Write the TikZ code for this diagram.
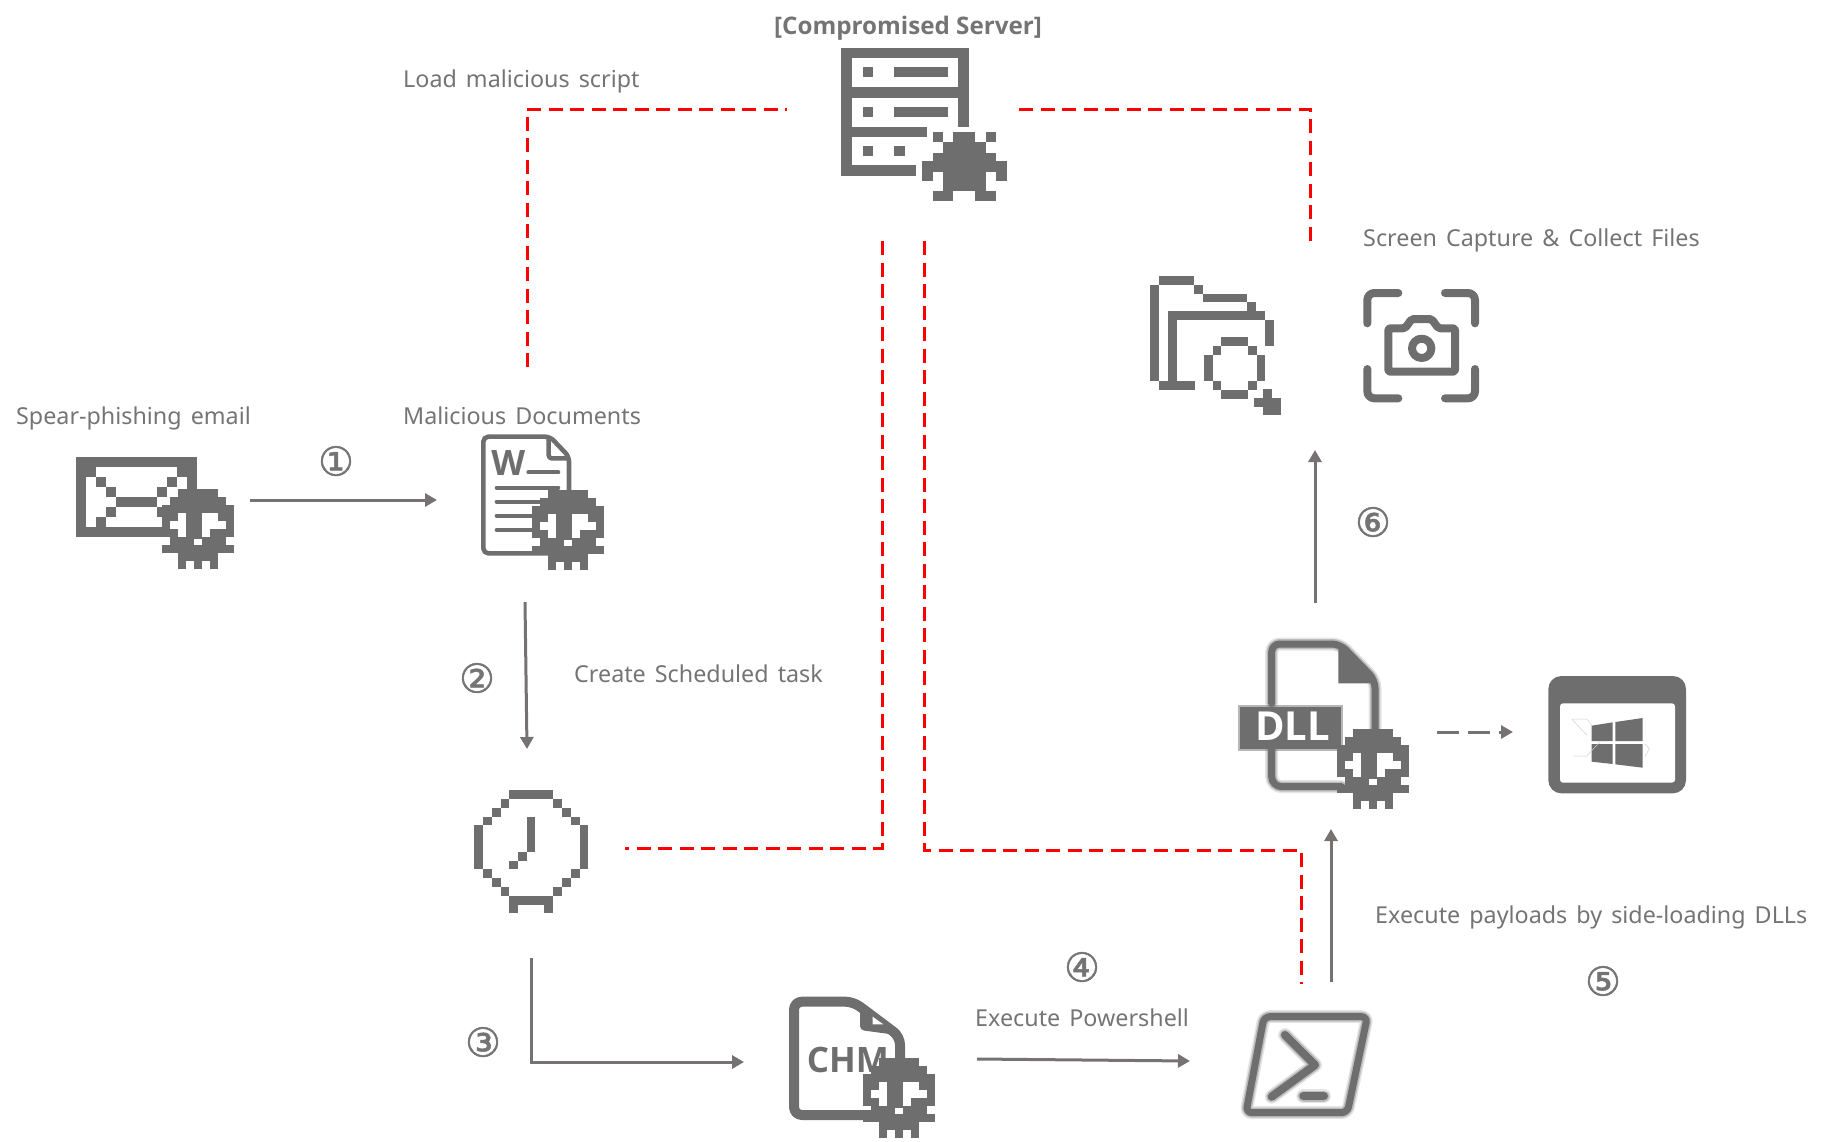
\documentclass[tikz,border=0pt]{standalone}
\usepackage{fontspec}
\setmainfont[WordSpace=1.5]{Noto Sans}
\newfontfamily\boldf{Open Sans}
\newfontfamily\circfont[FakeBold=1.2]{DejaVu Sans}
\usetikzlibrary{arrows.meta}
\definecolor{iconc}{HTML}{6E6E6E}
\definecolor{textc}{HTML}{747474}
\definecolor{arrowc}{HTML}{767272}
\newcommand{\Px}[4]{\fill[iconc] (#1,#2) rectangle (#3,#4);}
\newcommand{\Wh}[4]{\fill[white] (#1,#2) rectangle (#3,#4);}
\newcommand{\Skull}[2]{%
 \begin{scope}[shift={(#1,#2)},x=8pt,y=-8pt]
 \Px{2}{0}{7}{1}\Px{1}{1}{8}{2}\Px{0}{2}{9}{6}\Px{1}{6}{8}{7}\Px{0}{7}{9}{8}\Px{2}{8}{7}{9}
 \Px{2}{9}{3}{10}\Px{4}{9}{5}{10}\Px{6}{9}{7}{10}
 \Wh{2}{3}{3}{6}\Wh{1}{4}{2}{5}\Wh{5}{3}{7}{5}\Wh{7}{4}{8}{5}\Wh{5}{5}{6}{6}\Wh{4}{6.3}{5}{7}
 \end{scope}}
\newcommand{\Blur}[2]{%
 \draw[iconc,line width=#1pt+5pt,opacity=.18,line join=round,line cap=round] #2;
 \draw[iconc,line width=#1pt+2pt,opacity=.35,line join=round,line cap=round] #2;
 \draw[iconc,line width=#1pt-1pt,line join=round,line cap=round] #2;}
\tikzset{
 iconbox/.style={inner sep=0pt,outer sep=0pt,minimum width=#1},
 zoomed/.style={x=0.33333pt,y=-0.33333pt},
 label/.style={text=textc,anchor=base west,inner sep=0pt,font=\fontsize{23.3}{28}\selectfont},
 num/.style={text=textc,inner sep=0pt,font=\circfont\fontsize{40}{42}\selectfont},
 flow/.style={arrowc,line width=3pt,-{Triangle[length=12pt,width=13pt]}},
 flowdash/.style={flow,dash pattern=on 22pt off 9pt},
 c2/.style={red,line width=3pt,dash pattern=on 14pt off 7.5pt}
}
\begin{document}
\begin{tikzpicture}[x=1pt,y=-1pt]
\useasboundingbox (0,0) rectangle (1837,1141);
% --- icon boxes
\node[iconbox=157pt,minimum height=111pt] (mail) at (154.5,512.5) {};
\node[iconbox=121pt,minimum height=134pt] (doc) at (541.5,501) {};
\node[iconbox=114pt,minimum height=123pt] (clock) at (531,851.5) {};
\node[iconbox=147pt,minimum height=141pt] (chm) at (861.5,1067.5) {};
\node[iconbox=129pt,minimum height=104pt] (ps) at (1307.5,1065) {};
\node[iconbox=171pt,minimum height=171pt] (dll) at (1323.5,723.5) {};
\node[iconbox=138pt,minimum height=117pt] (win) at (1617,734.5) {};
\node[iconbox=131pt,minimum height=139pt] (folder) at (1215.5,345.5) {};
\node[iconbox=116pt,minimum height=113pt] (camera) at (1421,345.5) {};
\node[iconbox=166pt,minimum height=153pt] (server) at (924,124.5) {};
% --- server
\begin{scope}[shift={(820,30)},zoomed]
\Px{63}{53}{447}{83}\Px{63}{53}{95}{437}\Px{415}{53}{447}{290}\Px{63}{172}{447}{203}
\Px{63}{290}{320}{320}\Px{63}{406}{287}{437}
\Px{128}{112}{160}{142}\Px{223}{112}{383}{142}
\Px{128}{230}{160}{260}\Px{223}{230}{383}{260}
\Px{128}{348}{160}{378}\Px{223}{348}{255}{378}
\Px{338}{306}{368}{336}\Px{498}{306}{528}{336}\Px{400}{306}{464}{336}
\Px{370}{336}{498}{368}\Px{338}{368}{528}{394}\Px{306}{394}{560}{425}
\Px{306}{425}{338}{452}\Px{528}{425}{560}{452}\Px{370}{425}{498}{484}
\Px{338}{484}{400}{512}\Px{464}{484}{528}{512}
\end{scope}
% --- mail
\begin{scope}[shift={(60,440)},zoomed]
\Px{48}{50}{412}{80}\Px{48}{50}{78}{292}\Px{380}{50}{412}{292}\Px{48}{262}{412}{292}
\Px{78}{80}{108}{110}\Px{108}{110}{138}{140}\Px{138}{140}{168}{172}\Px{168}{172}{290}{202}
\Px{138}{202}{168}{232}\Px{108}{232}{138}{262}
\Px{350}{80}{380}{110}\Px{320}{110}{350}{140}\Px{290}{140}{320}{172}\Px{290}{202}{320}{232}
\end{scope}
\Skull{162}{489}
% --- word document
\begin{scope}[shift={(470,425)},zoomed]
\draw[iconc,line width=4.6pt,line join=round,rounded corners=5pt] (40,35) -- (240,35) -- (297,95) -- (297,385) -- (40,385) -- cycle;
\draw[iconc,line width=4.6pt,line join=round,rounded corners=3pt] (236,35) -- (236,100) -- (297,100);
\node[text=iconc,inner sep=0pt,font=\boldf\bfseries\fontsize{35}{35}\selectfont] (wtext) at (115,113) {W};
\foreach \yy/\xx in {142/175,188/80,230/80,272/80,315/80}{
 \draw[iconc,line width=4pt,line cap=round] (\xx,\yy) -- (265,\yy);}
\end{scope}
\Skull{532}{490}
% --- clock
\begin{scope}[shift={(465,780)},zoomed]
\Px{133}{30}{265}{57}\Px{107}{57}{133}{83}\Px{80}{83}{107}{110}\Px{53}{110}{80}{136}
\Px{27}{136}{53}{268}\Px{53}{268}{80}{295}\Px{80}{295}{107}{322}\Px{107}{322}{133}{348}
\Px{133}{348}{265}{374}\Px{133}{374}{158}{400}\Px{238}{374}{265}{400}
\Px{265}{57}{291}{83}\Px{291}{83}{318}{110}\Px{318}{110}{344}{136}
\Px{344}{136}{370}{268}\Px{318}{268}{344}{295}\Px{291}{295}{318}{322}\Px{265}{322}{291}{348}
\Px{185}{110}{211}{215}\Px{158}{215}{185}{242}\Px{133}{242}{158}{268}
\end{scope}
% --- chm
\begin{scope}[shift={(780,985)},zoomed]
\draw[iconc,line width=10pt,line join=round,rounded corners=8pt] (300,390) -- (42,390) -- (42,50) -- (220,50) -- (360,155) -- (360,300);
\fill[iconc,rounded corners=4pt] (240,60) -- (240,135) -- (350,150) -- (350,130) -- cycle;
\fill[white] (278,95) -- (310,118) -- (278,118) -- cycle;
\node[text=iconc,inner sep=0pt,anchor=west,font=\boldf\bfseries\fontsize{35}{35}\selectfont] (chmtext) at (80,225) {CHM};
\end{scope}
\Skull{863}{1058}
% --- dll
\begin{scope}[shift={(1230,630)},zoomed]
\Blur{8}{(125,220) -- (125,70) [rounded corners=8pt] -- (125,42) -- (330,42) -- (435,150) -- (435,320)}
\Blur{8}{(125,360) [rounded corners=10pt] -- (125,470) -- (335,470)}
\fill[iconc] (325,50) -- (325,160) -- (435,160) -- cycle;
\fill[iconc,opacity=.5] (25,225) rectangle (340,362);
\fill[iconc] (31,231) rectangle (334,356);
\node[text=white,inner sep=0pt,font=\boldf\bfseries\fontsize{40}{42}\selectfont] (dlltext) at (188,290) {DLL};
\end{scope}
\Skull{1337}{729}
% --- windows
\begin{scope}[shift={(1530,660)},zoomed]
\fill[iconc,rounded corners=13pt] (55,48) rectangle (468,400);
\fill[white,rounded corners=3pt] (90,130) rectangle (435,368);
\fill[iconc] (185,197) -- (248,187) -- (248,243) -- (185,243) -- cycle;
\fill[iconc] (256,186) -- (338,174) -- (338,243) -- (256,243) -- cycle;
\fill[iconc] (185,252) -- (248,252) -- (248,312) -- (185,305) -- cycle;
\fill[iconc] (256,252) -- (338,252) -- (338,323) -- (256,313) -- cycle;
\draw[black!18,line width=.5pt] (125,177) -- (170,177) -- (185,195) (125,177) -- (170,225) (130,288) -- (170,288) -- (210,245) (345,252) -- (358,265) -- (345,290);
\end{scope}
% --- powershell
\begin{scope}[shift={(1220,1000)},zoomed]
\Blur{8}{[rounded corners=6pt] (132,50) -- (442,50) -- (382,338) -- (78,338) -- cycle}
\Blur{9}{(195,105) -- (285,195) -- (155,290)}
\Blur{9}{(250,288) -- (312,288)}
\end{scope}
% --- folder
\begin{scope}[shift={(1130,265)},zoomed]
\Px{88}{33}{193}{60}\Px{60}{60}{88}{348}\Px{193}{60}{220}{86}\Px{220}{86}{352}{112}
\Px{352}{112}{379}{138}\Px{114}{138}{405}{164}\Px{114}{164}{140}{348}\Px{88}{348}{195}{375}
\Px{405}{164}{432}{242}
\Px{274}{216}{354}{243}\Px{248}{243}{274}{269}\Px{354}{243}{380}{269}\Px{221}{269}{248}{348}
\Px{380}{269}{406}{348}\Px{248}{348}{274}{375}\Px{354}{348}{380}{375}\Px{274}{375}{354}{401}
\Px{398}{372}{425}{398}\Px{372}{398}{452}{425}\Px{398}{425}{452}{450}
\end{scope}
% --- camera
\begin{scope}[shift={(1350,275)},zoomed]
\begin{scope}[iconc,line width=8pt,line cap=round,line join=round]
\draw[iconc,rounded corners=7pt] (145,54) -- (52,54) -- (52,145);
\draw[iconc,rounded corners=7pt] (285,54) -- (375,54) -- (375,145);
\draw[iconc,rounded corners=7pt] (52,282) -- (52,370) -- (145,370);
\draw[iconc,rounded corners=7pt] (285,370) -- (375,370) -- (375,282);
\draw[iconc,rounded corners=2pt] (115,160) -- (165,160) -- (185,132) -- (245,132) -- (265,160) -- (315,160) -- (315,290) -- (115,290) -- cycle;
\draw[iconc] (215,220) circle[radius=29];
\end{scope}
\end{scope}
% --- connectors
\draw[flow] ([shift={(17,-12.5)}]mail.east) -- ([shift={(-44,-1)}]doc.west);
\draw[flow] ([shift={(-16.5,34)}]doc.south) -- ([shift={(-4,-41)}]clock.north);
\draw[flow] ([shift={(0,45)}]clock.south) |- ([shift={(-44,-5.5)}]chm.west);
\draw[flow] ([shift={(42,-8.5)}]chm.east) -- ([shift={(-53,-4)}]ps.west);
\draw[flow] ([shift={(23.5,-31)}]ps.north) -- ([shift={(7.5,20)}]dll.south);
\draw[flow] ([shift={(-8.5,-35)}]dll.north) -- ([shift={(99.5,35)}]folder.south);
\draw[flowdash] ([shift={(28,8.5)}]dll.east) -- ([shift={(-35,-2.5)}]win.west);
\draw[c2] ([shift={(-14.5,-67)}]doc.north) |- ([shift={(-54,-15.5)}]server.west);
\draw[c2] ([shift={(12,-15.5)}]server.east) -| ([shift={(94.5,-30)}]folder.north);
\draw[c2] ([shift={(-42,40)}]server.south) |- ([shift={(37,-3.5)}]clock.east);
\draw[c2] ([shift={(0,40)}]server.south) -- ++(0,609) -| ([shift={(-6.5,-29)}]ps.north);
% --- labels
\node[text=textc,inner sep=0pt,font=\boldf\bfseries\fontsize{24.2}{28}\selectfont] (title) at (908,28) {[Compromised Server]};
\node[label] (l1) at (403,87) {Load malicious script};
\node[label] (l2) at (16,424) {Spear-phishing email};
\node[label] (l3) at (403,424) {Malicious Documents};
\node[label] (l4) at (574,682) {Create Scheduled task};
\node[label] (l5) at (975,1026) {Execute Powershell};
\node[label] (l6) at (1375,923) {Execute payloads by side-loading DLLs};
\node[label] (l7) at (1363,246) {Screen Capture \& Collect Files};
\node[num] (n1) at (336,461) {①};
\node[num] (n2) at (477,678) {②};
\node[num] (n3) at (483,1042) {③};
\node[num] (n4) at (1082,967) {④};
\node[num] (n5) at (1603,981) {⑤};
\node[num] (n6) at (1373,522) {⑥};
\end{tikzpicture}
\end{document}
